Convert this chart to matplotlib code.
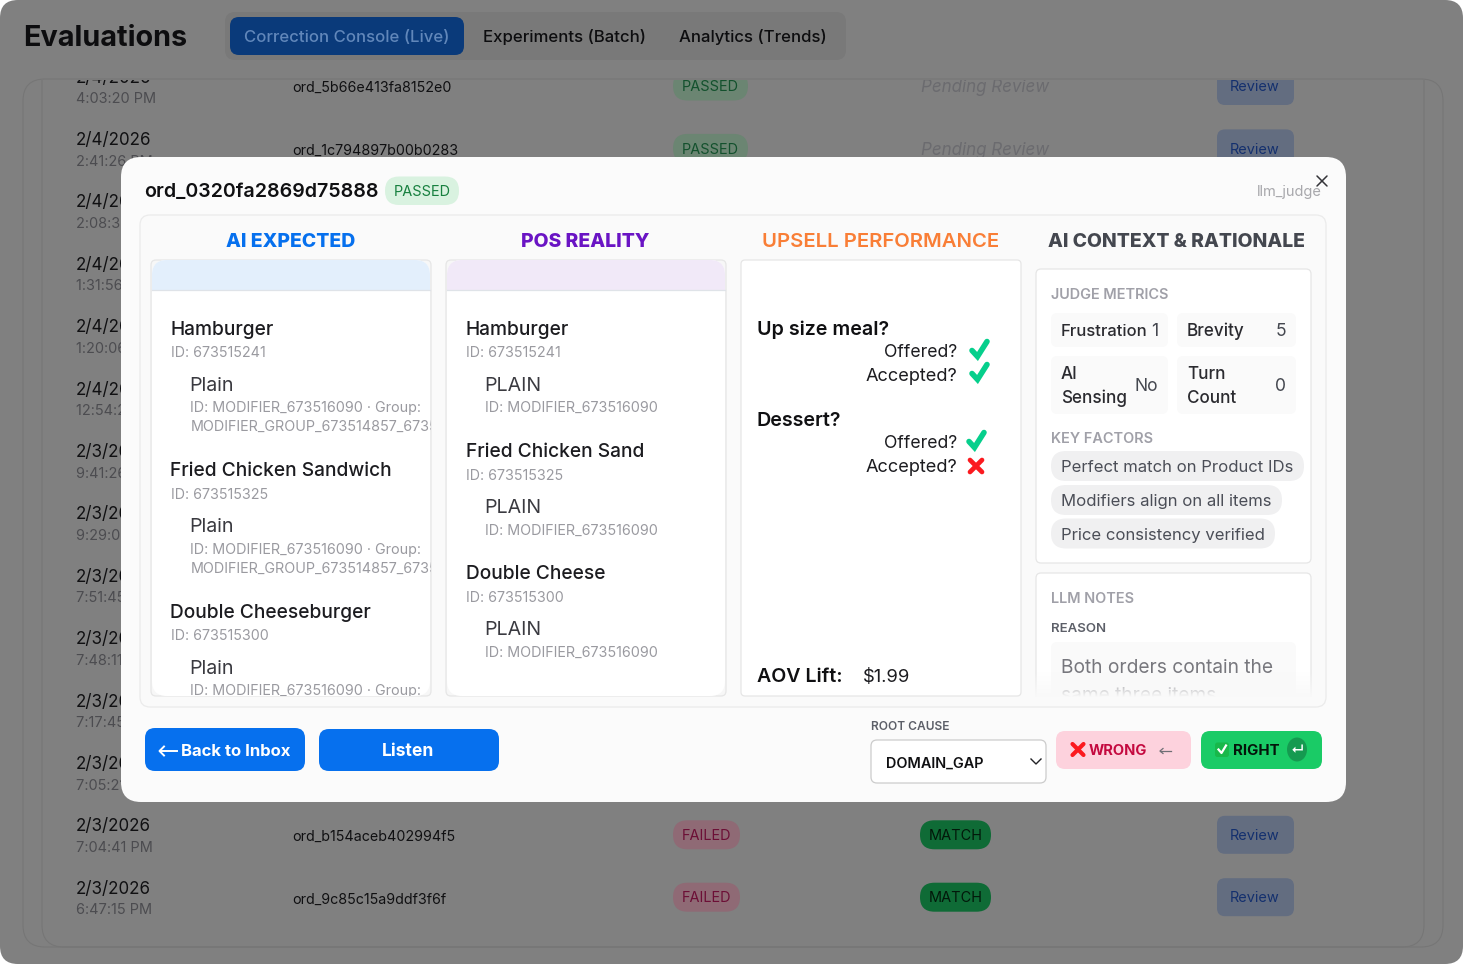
import numpy as np
import matplotlib
matplotlib.use('Agg')
import matplotlib.pyplot as plt
from matplotlib.patches import FancyBboxPatch, Rectangle, Ellipse

plt.rcParams['font.family'] = ['Inter', 'DejaVu Sans']

# table behind the dialog
dates = ['2/4/2026'] * 6 + ['2/3/2026'] * 8
times = ['4:03:20 PM', '2:41:26 PM', '2:08:34 PM', '1:31:56 PM', '1:20:06 PM', '12:54:20 PM', '9:41:26 PM',
         '9:29:05 PM', '7:51:45 PM', '7:48:11 PM', '7:17:45 PM', '7:05:21 PM', '7:04:41 PM', '6:47:15 PM']
visible_rows = [0, 1, 12, 13]
order_ids = ['ord_5b66e413fa8152e0', 'ord_1c794897b00b0283', 'ord_b154aceb402994f5', 'ord_9c85c15a9ddf3f6f']
statuses = ['PASSED', 'PASSED', 'FAILED', 'FAILED']
judged = ['Pending Review', 'Pending Review', 'MATCH', 'MATCH']
tabs = ['Correction Console (Live)', 'Experiments (Batch)', 'Analytics (Trends)']

# dialog text
expected_items = [('Hamburger', '673515241', 'Plain'), ('Fried Chicken Sandwich', '673515325', 'Plain'),
                  ('Double Cheeseburger', '673515300', 'Plain')]
pos_items = [('Hamburger', '673515241', 'PLAIN'), ('Fried Chicken Sand', '673515325', 'PLAIN'),
             ('Double Cheese', '673515300', 'PLAIN')]
metrics = [('Frustration', '1'), ('Brevity', '5'), ('AI\nSensing', 'No'), ('Turn\nCount', '0')]
key_factors = ['Perfect match on Product IDs', 'Modifiers align on all items', 'Price consistency verified']
upsells = [('Up size meal?', True, True), ('Dessert?', True, False)]

W, H = 1463, 964
fig = plt.figure(figsize=(W / 100, H / 100), dpi=100, facecolor='white')
ax = fig.add_axes([0, 0, 1, 1])
ax.set_xlim(0, W)
ax.set_ylim(H, 0)
ax.axis('off')


def box(x0, y0, x1, y1, r=8, fc='white', ec='none', lw=0.9, z=1, clip=None):
    p = FancyBboxPatch((x0, y0), x1 - x0, y1 - y0, boxstyle=f'round,pad=0,rounding_size={r}',
                       fc=fc, ec=ec, lw=lw, zorder=z)
    ax.add_patch(p)
    if clip is not None:
        p.set_clip_path(clip)
    return p


def txt(x, y, s, px=14, color='black', weight='normal', ha='left', z=5, clip=None, style='normal'):
    # y is the middle of the capital letters
    t = ax.text(x, y + 0.36 * px, s, fontsize=px * 0.72, color=color, fontweight=weight, ha=ha, va='baseline',
                zorder=z, fontstyle=style)
    if clip is not None:
        t.set_clip_on(True)
        t.set_clip_path(clip)
    return t


def check(x, y, s=1.0, z=16):
    ax.plot([x - 8 * s, x - 2.5 * s, x + 7 * s], [y + 0.5 * s, y + 6.5 * s, y - 8.5 * s], color='#06cf8c', lw=4,
            solid_capstyle='round', solid_joinstyle='miter', zorder=z)


def cross(x, y, s=6, color='#fb1a1f', lw=3.4, z=16):
    ax.plot([x - s, x + s], [y - s, y + s], color=color, lw=lw, solid_capstyle='round', zorder=z)
    ax.plot([x - s, x + s], [y + s, y - s], color=color, lw=lw, solid_capstyle='round', zorder=z)


# page
box(0, 0, W, H, r=18, fc='#808080', z=0)
box(23, 79, 1443, 947, r=22, fc='#808080', ec='#767676', lw=0.8, z=1)
clip_inner = Rectangle((30, 80), 1400, 870, transform=ax.transData)
box(42, 40, 1424, 947, r=22, fc='none', ec='#767676', lw=0.8, z=2, clip=clip_inner)

txt(23.5, 36, 'Evaluations', px=28.8, color='#0d0d0f', weight='bold')
box(225, 12, 846, 60, r=10, fc='#797979', z=2)
box(230, 17, 464, 55, r=9, fc='#0a3a7a', z=3)
txt(347, 36, tabs[0], px=16.75, color='#6187ba', weight='medium', ha='center')
txt(564.5, 36, tabs[1], px=16.75, color='#0d0d0f', weight='medium', ha='center')
txt(753, 36, tabs[2], px=16.75, color='#0d0d0f', weight='medium', ha='center')

clip_rect = Rectangle((24, 80), 1418, 866, transform=ax.transData)
row_y = lambda i: 86 + 62.4 * i
for i in range(14):
    y = row_y(i)
    txt(76, y - 9.5, dates[i], px=17, color='#101012', z=3, clip=clip_rect)
    txt(76, y + 12, times[i], px=14.5, color='#4c4c50', z=3, clip=clip_rect)
for k, i in enumerate(visible_rows):
    y = row_y(i)
    txt(292.5, y + 1, order_ids[k], px=14.3, color='#101012', z=3, clip=clip_rect)
    passed = statuses[k] == 'PASSED'
    x1 = 748 if passed else 740
    box(673, y - 14.5, x1, y + 14.5, r=14.5, fc='#6b8572' if passed else '#8f6a75', z=3, clip=clip_rect)
    txt((673 + x1) / 2, y, statuses[k], px=14.5, color='#13512d' if passed else '#6c0f36', ha='center', z=4, clip=clip_rect)
    if judged[k] == 'MATCH':
        box(920, y - 14.5, 991, y + 14.5, r=14.5, fc='#0f6b36', z=3, clip=clip_rect)
        txt(955.5, y, judged[k], px=14.5, color='#02180a', ha='center', z=4, clip=clip_rect)
    else:
        txt(921, y, judged[k], px=17, color='#6b6b6f', style='italic', z=3, clip=clip_rect)
    box(1217, y - 19, 1294, y + 19, r=8, fc='#636d80', z=3, clip=clip_rect)
    txt(1255, y, 'Review', px=14.5, color='#14306e', ha='center', z=4, clip=clip_rect)

# dialog
box(121, 157, 1346, 802, r=20, fc='#fbfbfb', z=10)
txt(144.5, 190, 'ord_0320fa2869d75888', px=19.6, color='#101012', weight='semibold', z=12)
box(385, 176.5, 459, 205, r=14, fc='#d9f2e0', z=12)
txt(422, 190.5, 'PASSED', px=14.5, color='#17803f', ha='center', z=13)
txt(1322, 190.5, 'llm_judge', px=14.6, color='#a8a8ac', ha='right', z=12)
cross(1322, 181, s=5, color='#333338', lw=1.1, z=13)

box(140, 215, 1326, 707, r=10, fc='#fafafa', ec='#ebebeb', z=11)

txt(291, 240, 'AI EXPECTED', px=19.4, color='#0670ee', weight='heavy', ha='center', z=12)
txt(585.5, 240, 'POS REALITY', px=19.4, color='#6a14c4', weight='heavy', ha='center', z=12)
txt(881, 240, 'UPSELL PERFORMANCE', px=20.3, color='#f97e36', weight='semibold', ha='center', z=12)
txt(1176, 240, 'AI CONTEXT & RATIONALE', px=19.3, color='#44474f', weight='heavy', ha='center', z=12)

for x0, header in [(151, '#e3effc'), (446, '#f1e9f8')]:
    box(x0, 260, x0 + 280, 696, r=5, fc='#f7f7f7', ec='#e6e6e6', z=12)
    card = box(x0 + 1, 260, x0 + 279, 696, r=15, fc='white', z=12)
    h = Rectangle((x0 + 1, 260), 278, 29.5, fc=header, ec='none', zorder=13)
    ax.add_patch(h)
    h.set_clip_path(card)
    ax.plot([x0 + 1, x0 + 279], [289.5, 289.5], color='#dfe3e8', lw=0.9, zorder=14)

grey = '#9a9aa0'
clip_a = Rectangle((152, 261), 279, 435, transform=ax.transData)
for (name, pid, mod), y in zip(expected_items, [328, 469.5, 611]):
    txt(170.5, y, name, px=19.15, color='#1c1c20', weight='medium', z=15, clip=clip_a)
    txt(171, y + 24, 'ID: ' + pid, px=14.3, color=grey, z=15, clip=clip_a)
    txt(189.5, y + 55.5, mod, px=19.6, color='#3a3a40', z=15, clip=clip_a)
    txt(190.5, y + 79, 'ID: MODIFIER_673516090 · Group:', px=14.35, color=grey, z=15, clip=clip_a)
    txt(190.5, y + 98, 'MODIFIER_GROUP_673514857_67351', px=14.35, color=grey, z=15, clip=clip_a)

for (name, pid, mod), y in zip(pos_items, [328, 450.5, 572.5]):
    txt(465.5, y, name, px=19.15, color='#1c1c20', weight='medium', z=15)
    txt(466, y + 24, 'ID: ' + pid, px=14.3, color=grey, z=15)
    txt(484.5, y + 55.5, mod, px=19.6, color='#3a3a40', z=15)
    txt(485, y + 79, 'ID: MODIFIER_673516090', px=14.35, color=grey, z=15)

# upsell
box(741, 260, 1021, 696, r=4, fc='white', ec='#e6e6e6', z=12)
for (q, offered, accepted), y in zip(upsells, [328, 419]):
    txt(757, y, q, px=19.7, color='#101012', weight='semibold', z=15)
    txt(957, y + 23, 'Offered?', px=17.6, color='#1c1c20', ha='right', z=15)
    txt(957, y + 46, 'Accepted?', px=18.2, color='#1c1c20', ha='right', z=15)
    dx = 980 if y == 328 else 977
    check(dx, y + 22)
    if accepted:
        check(dx, y + 45)
    else:
        cross(976, y + 47, s=6)
txt(757, 675, 'AOV Lift:', px=19.6, color='#101012', weight='semibold', z=15)
txt(863, 675, '$1.99', px=18.4, color='#1c1c20', z=15)

# context column
box(1036, 269, 1311, 563, r=5, fc='white', ec='#e6e6e6', z=12)
txt(1051, 293.5, 'JUDGE METRICS', px=14.5, color='#a0a0a8', weight='semibold', z=15)
tiles = [(1051, 313, 1168, 347), (1177, 313, 1296, 347), (1051, 356, 1168, 414), (1177, 356, 1296, 414)]
for (label, val), (x0, y0, x1, y1) in zip(metrics, tiles):
    box(x0, y0, x1, y1, r=6, fc='#fafafa', z=13)
    ym = (y0 + y1) / 2
    for j, line in enumerate(label.split('\n')):
        ly = ym if '\n' not in label else ym - 12 + 24 * j
        txt(x0 + 10, ly, line, px=16.6 if line == 'Frustration' else 17.1, color='#2b2b30', weight='medium', z=15)
    txt(x1 - 9.5, ym, val, px=17.5, color='#44474f', ha='right', z=15)
txt(1051, 437.5, 'KEY FACTORS', px=14.5, color='#a0a0a8', weight='semibold', z=15)
for s, y, x1 in zip(key_factors, [466, 500, 533.5], [1304, 1282, 1275]):
    box(1051, y - 15, x1, y + 15, r=15, fc='#f0f0f1', z=13)
    txt(1061, y, s, px=16.7, color='#4b4e57', z=15)

clip_c = Rectangle((1030, 560), 290, 137, transform=ax.transData)
box(1036, 573, 1311, 730, r=5, fc='white', ec='#e6e6e6', z=12, clip=clip_c)
txt(1051, 598, 'LLM NOTES', px=14.5, color='#a0a0a8', weight='semibold', z=15)
txt(1051, 627.5, 'REASON', px=13.2, color='#5c5f68', weight='semibold', z=15)
box(1051, 642, 1296, 720, r=6, fc='#fafafa', z=13, clip=clip_c)
txt(1061, 666, 'Both orders contain the', px=19.2, color='#77777d', z=15, clip=clip_c)
txt(1061, 694, 'same three items', px=19.2, color='#77777d', z=15, clip=clip_c)
fade = np.zeros((30, 1, 4))
fade[..., :3] = 0.98
fade[..., 3] = np.linspace(0, 1, 30)[:, None]
ax.imshow(fade, extent=(1035, 1312, 697, 672), aspect='auto', zorder=16)
ax.set_xlim(0, W)
ax.set_ylim(H, 0)

# footer
box(145, 728, 305, 771, r=10, fc='#0670ee', z=12)
ax.plot([160, 177], [751, 751], color='white', lw=1.4, zorder=13)
ax.plot([164, 159.5, 164], [746.5, 751, 755.5], color='white', lw=1.4, zorder=13)
txt(181, 750, 'Back to Inbox', px=16.7, color='white', weight='bold', z=13)
box(319, 729, 499, 771, r=10, fc='#0670ee', z=12)
txt(408, 750, 'Listen', px=17.5, color='white', weight='bold', ha='center', z=13)
txt(871, 726, 'ROOT CAUSE', px=12, color='#5c5f68', weight='semibold', z=12)
box(871, 740, 1046, 783, r=6, fc='white', ec='#cccccc', z=12)
txt(886, 762, 'DOMAIN_GAP', px=14.5, color='#101012', weight='semibold', z=13)
ax.plot([1031, 1036, 1041], [759, 764, 759], color='#222226', lw=1, zorder=13)
box(1056, 731, 1191, 769, r=9, fc='#fdd2dd', z=12)
cross(1078, 749.5, s=5.5, lw=3)
txt(1089, 749.5, 'WRONG', px=14.7, color='#c4093f', weight='bold', z=13)
ax.plot([1160, 1171], [751, 751], color='#6f6f75', lw=0.9, zorder=13)
ax.plot([1163, 1160, 1163], [748.5, 751, 753.5], color='#6f6f75', lw=0.9, zorder=13)
box(1201, 731, 1322, 769, r=9, fc='#1acb66', z=12)
box(1215, 742.5, 1229, 757, r=2.5, fc='#18b84a', z=13)
ax.plot([1218.5, 1221.5, 1226], [749.5, 753, 745.5], color='white', lw=1.6, zorder=14)
txt(1233, 749.5, 'RIGHT', px=15, color='#04140a', weight='bold', z=13)
ax.add_patch(Ellipse((1297, 749.5), 20, 24, fc='#159a50', ec='none', zorder=13))
txt(1297, 749, '↵', px=13, color='white', weight='bold', ha='center', z=14)

fig.savefig('out.png', dpi=100)
